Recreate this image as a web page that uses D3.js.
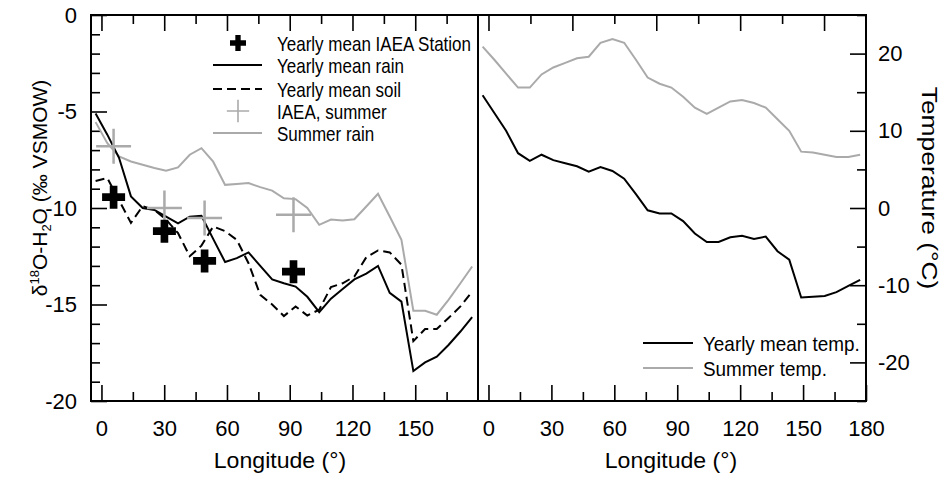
<!DOCTYPE html>
<html>
<head>
<meta charset="utf-8">
<script src="https://cdn.jsdelivr.net/npm/d3@7"></script>
<style>
body { margin: 0; background: #fff; }
text { font-family: Arial, "Liberation Sans", sans-serif; fill: #000; }
</style>
</head>
<body>
<script>
// longitude grid shared by all model curves
const lon = [-2.8, 2.8, 8.4, 14.1, 19.7, 25.3, 30.9, 36.6, 42.2, 47.8, 53.4, 59.1, 64.7, 70.3, 75.9, 81.6, 87.2,
  92.8, 98.4, 104.1, 109.7, 115.3, 120.9, 126.6, 132.2, 137.8, 143.4, 149.1, 154.7, 160.3, 165.9, 171.6, 177.2]

// d18O (permil VSMOW)
const yearlyRain = [-5.1, -6.2, -7.4, -9.4, -10.0, -10.1, -10.45, -10.8, -10.45, -10.4, -11.6, -12.8, -12.6, -12.3, -13.0, -13.7, -13.9,
  -14.07, -14.6, -15.4, -14.7, -14.2, -13.7, -13.4, -13.0, -14.4, -14.85, -18.45, -18.0, -17.7, -17.1, -16.4, -15.65]
const yearlySoil = [-8.6, -8.45, -9.6, -10.77, -9.9, -10.1, -10.6, -11.3, -12.5, -11.95, -10.96, -11.2, -11.65, -12.86, -14.5, -15.0, -15.6,
  -15.1, -15.57, -15.27, -14.1, -13.9, -13.55, -12.55, -12.2, -12.3, -12.94, -16.9, -16.27, -16.27, -15.7, -15.1, -14.33]
const summerRain = [-5.55, -6.64, -7.33, -7.59, -7.76, -7.93, -8.07, -7.9, -7.24, -6.9, -7.6, -8.8, -8.76, -8.71, -8.92, -9.1, -9.5,
  -9.54, -10.0, -10.87, -10.6, -10.65, -10.58, -9.92, -9.26, -10.44, -11.65, -15.33, -15.33, -15.53, -14.76, -13.9, -13.03]

// IAEA stations
const stationLon = [5.8, 30.1, 49.3, 91.8]
const stationYearly = [-9.44, -11.2, -12.74, -13.3]
const stationSummer = [-6.8, -10.0, -10.52, -10.35]

// temperature (deg C)
const yearlyTemp = [14.6, 12.3, 10.0, 7.1, 6.1, 6.9, 6.2, 5.8, 5.4, 4.7, 5.3, 4.8, 3.8, 1.8, -0.3, -0.7, -0.7,
  -1.7, -3.3, -4.4, -4.4, -3.8, -3.6, -4.0, -3.7, -5.6, -6.7, -11.6, -11.5, -11.4, -10.9, -10.1, -9.3]
const summerTemp = [20.9, 19.2, 17.4, 15.6, 15.6, 17.3, 18.2, 18.8, 19.4, 19.6, 21.4, 21.9, 21.4, 19.2, 16.9, 16.1, 15.6,
  14.4, 13.0, 12.2, 13.0, 13.8, 14.0, 13.6, 13.0, 11.5, 10.0, 7.3, 7.2, 6.9, 6.6, 6.6, 6.9]

const isoTicks = [0, -5, -10, -15, -20]
const tempTicks = [20, 10, 0, -10, -20]
const lonTicksLeft = [0, 30, 60, 90, 120, 150]
const lonTicksRight = [0, 30, 60, 90, 120, 150, 180]
const lonTicksTopRight = [0, 40, 80, 120, 160]

const gray = "#aaaaaa"
const plain = d => String(d)   // hyphen minus like the original

let svg = d3.select("body").append("svg")
    .attr("width", 944)
    .attr("height", 479)

let xL = d3.scaleLinear().domain([-5, 180]).range([91, 478])
let xR = d3.scaleLinear().domain([-5, 180]).range([478, 866])
let yL = d3.scaleLinear().domain([-20, 0]).range([401, 15])
let yR = d3.scaleLinear().domain([-25, 25]).range([401, 15])

// ---- axes (ticks point inward) ----
function addAxis(axis, tx, ty) {
    let g = svg.append("g")
        .attr("transform", `translate(${tx},${ty})`)
        .call(axis)
    g.select(".domain").remove()
    g.selectAll(".tick line").attr("stroke", "#000").attr("stroke-width", 1.6)
    g.selectAll("text").style("font-size", "22px").attr("fill", "#000")
    return g
}
function minorOf(majors, step, lo, hi) {
    return d3.range(lo, hi + 0.001, step).filter(v => !majors.includes(v))
}

// bottom
addAxis(d3.axisBottom(xL).tickValues(lonTicksLeft).tickSize(-16).tickPadding(19).tickFormat(plain), 0, 401)
addAxis(d3.axisBottom(xL).tickValues(minorOf(lonTicksLeft, 15, 15, 165)).tickSize(-9).tickFormat(""), 0, 401)
addAxis(d3.axisBottom(xR).tickValues(lonTicksRight).tickSize(-16).tickPadding(19).tickFormat(plain), 0, 401)
addAxis(d3.axisBottom(xR).tickValues(minorOf(lonTicksRight, 15, 15, 165)).tickSize(-9).tickFormat(""), 0, 401)
// top
addAxis(d3.axisTop(xL).tickValues(lonTicksLeft).tickSize(-16).tickFormat(""), 0, 15)
addAxis(d3.axisTop(xL).tickValues(minorOf(lonTicksLeft, 15, 15, 165)).tickSize(-9).tickFormat(""), 0, 15)
addAxis(d3.axisTop(xR).tickValues(lonTicksTopRight).tickSize(-16).tickFormat(""), 0, 15)
addAxis(d3.axisTop(xR).tickValues([20, 60, 100, 140]).tickSize(-9).tickFormat(""), 0, 15)
// left
addAxis(d3.axisLeft(yL).tickValues(isoTicks).tickSize(-16).tickPadding(14).tickFormat(plain), 91, 0)
addAxis(d3.axisLeft(yL).tickValues(minorOf(isoTicks, 1, -19, -1)).tickSize(-9).tickFormat(""), 91, 0)
// right
addAxis(d3.axisRight(yR).tickValues(tempTicks).tickSize(-16).tickPadding(12).tickFormat(plain), 866, 0)
addAxis(d3.axisRight(yR).tickValues([-25, -15, -5, 5, 15, 25]).tickSize(-9).tickFormat(""), 866, 0)

// frame
svg.append("rect").attr("x", 91).attr("y", 15).attr("width", 775).attr("height", 386)
    .attr("fill", "none").attr("stroke", "#000").attr("stroke-width", 2)
svg.append("line").attr("x1", xL(180)).attr("x2", xL(180)).attr("y1", 15).attr("y2", 401)
    .attr("stroke", "#000").attr("stroke-width", 2)

// ---- lines ----
let lineL = d3.line().x((d, i) => xL(lon[i])).y(d => yL(d))
let lineR = d3.line().x((d, i) => xR(lon[i])).y(d => yR(d))

svg.append("path").attr("d", lineL(summerRain)).attr("fill", "none").attr("stroke", gray).attr("stroke-width", 2)
svg.append("path").attr("d", lineL(yearlySoil)).attr("fill", "none").attr("stroke", "#000").attr("stroke-width", 2)
    .attr("stroke-dasharray", "9,5")
svg.append("path").attr("d", lineL(yearlyRain)).attr("fill", "none").attr("stroke", "#000").attr("stroke-width", 2)

svg.append("path").attr("d", lineR(summerTemp)).attr("fill", "none").attr("stroke", gray).attr("stroke-width", 2)
svg.append("path").attr("d", lineR(yearlyTemp)).attr("fill", "none").attr("stroke", "#000").attr("stroke-width", 2)

// ---- station markers ----
let bigCross = d3.symbol().type(d3.symbolCross).size(294)
let thinPlus = d3.symbol().type(d3.symbolPlus).size(400)

svg.selectAll(".summerPt").data(stationSummer).enter().append("path")
    .attr("class", "summerPt")
    .attr("d", thinPlus)
    .attr("transform", (d, i) => `translate(${xL(stationLon[i])},${yL(d)})`)
    .attr("fill", "none").attr("stroke", gray).attr("stroke-width", 2.5)

svg.selectAll(".yearPt").data(stationYearly).enter().append("path")
    .attr("class", "yearPt")
    .attr("d", bigCross)
    .attr("transform", (d, i) => `translate(${xL(stationLon[i])},${yL(d)})`)
    .attr("fill", "#000")

// ---- text helpers ----
function label(x, y, str, size, sx, color) {
    return svg.append("text")
        .attr("transform", `translate(${x},${y}) scale(${sx},1)`)
        .style("font-size", size + "px")
        .attr("fill", color || "#000")
        .text(str)
}

// left legend
let legL = [
    {name: "Yearly mean IAEA Station", kind: "cross", y: 43},
    {name: "Yearly mean rain", kind: "solid", y: 65},
    {name: "Yearly mean soil", kind: "dash", y: 89},
    {name: "IAEA, summer", kind: "plus", y: 111},
    {name: "Summer rain", kind: "gray", y: 133}
]
legL.forEach(d => {
    if (d.kind == "cross") {
        svg.append("path").attr("d", d3.symbol().type(d3.symbolCross).size(142))
            .attr("transform", `translate(238,${d.y})`).attr("fill", "#000")
    } else if (d.kind == "plus") {
        svg.append("path").attr("d", d3.symbol().type(d3.symbolPlus).size(165))
            .attr("transform", `translate(238,${d.y})`).attr("fill", "none").attr("stroke", gray).attr("stroke-width", 1.6)
    } else {
        svg.append("line").attr("x1", 213).attr("x2", 262).attr("y1", d.y).attr("y2", d.y)
            .attr("stroke", d.kind == "gray" ? gray : "#000").attr("stroke-width", 2)
            .attr("stroke-dasharray", d.kind == "dash" ? "9,5" : null)
    }
    label(277, d.y + 7.5, d.name, 21, 0.81)
})

// right legend
let legR = [
    {name: "Yearly mean temp.", color: "#000", y: 343},
    {name: "Summer temp.", color: gray, y: 368}
]
legR.forEach(d => {
    svg.append("line").attr("x1", 643).attr("x2", 693).attr("y1", d.y).attr("y2", d.y)
        .attr("stroke", d.color).attr("stroke-width", 2)
    label(703, d.y + 7.5, d.name, 21, 0.9, d.color)
})

// axis titles
label(280, 468, "Longitude (°)", 22, 1.05).attr("text-anchor", "middle")
label(671, 468, "Longitude (°)", 22, 1.05).attr("text-anchor", "middle")

let yt = svg.append("text")
    .attr("transform", "translate(47,188) rotate(-90)")
    .attr("text-anchor", "middle")
    .style("font-size", "21px")
yt.append("tspan").text("δ")
yt.append("tspan").text("18").style("font-size", "13px").attr("dy", -8)
yt.append("tspan").text("O-H").attr("dy", 8)
yt.append("tspan").text("2").style("font-size", "13px").attr("dy", 4)
yt.append("tspan").text("O (‰ VSMOW)").attr("dy", -4)

svg.append("text")
    .attr("transform", "translate(922,188) rotate(90) scale(1.2,1)")
    .attr("text-anchor", "middle")
    .style("font-size", "22px")
    .text("Temperature (°C)")
</script>
</body>
</html>
